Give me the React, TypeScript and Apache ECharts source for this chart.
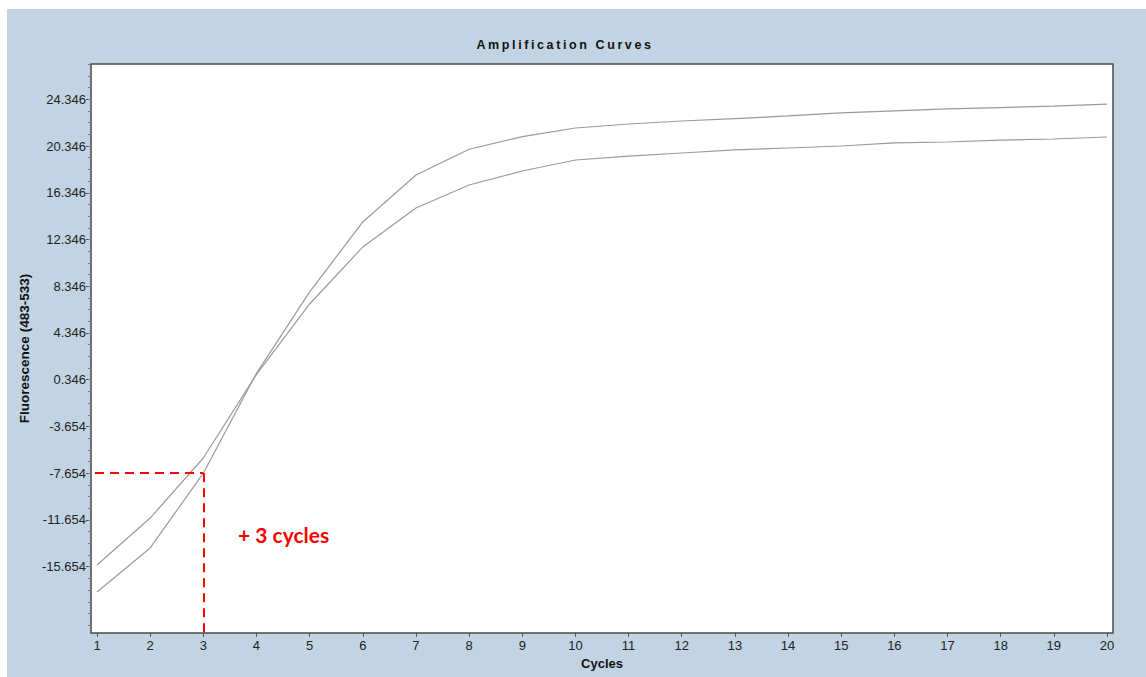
import React, { useEffect, useRef } from "react";
import * as echarts from "echarts";

const cycles = [1, 2, 3, 4, 5, 6, 7, 8, 9, 10, 11, 12, 13, 14, 15, 16, 17, 18, 19, 20];
const curveSteep = [-17.82, -14.05, -7.65, 0.9, 7.86, 13.85, 17.87, 20.07, 21.15, 21.89, 22.23, 22.49, 22.7, 22.92, 23.18, 23.35, 23.52, 23.64, 23.77, 23.94];
const curveShallow = [-15.51, -11.49, -6.35, 0.8, 6.83, 11.71, 15.04, 17.01, 18.21, 19.15, 19.49, 19.75, 20.01, 20.18, 20.35, 20.61, 20.69, 20.86, 20.95, 21.12];
const yMajorTicks = [-15.654, -11.654, -7.654, -3.654, 0.346, 4.346, 8.346, 12.346, 16.346, 20.346, 24.346];
const threshold = { cycle: 3, value: -7.654 };
const X_MIN = 0.887;
const X_MAX = 20.113;
const Y_MIN = -21.328;
const Y_MAX = 27.367;

const minorTicks: number[] = [];
for (let k = -21; k <= 27; k++) {
  const v = +(k + 0.346).toFixed(3);
  if (v > Y_MIN && v < Y_MAX) minorTicks.push(v);
}

const FONT = "'Liberation Sans', Arial, sans-serif";
const TITLE = "Amplification Curves";

export default function App() {
  const ref = useRef<HTMLDivElement>(null);
  useEffect(() => {
    if (!ref.current) return;
    const chart = echarts.init(ref.current, undefined, { renderer: "svg" });
    const toPairs = (arr: number[]) => cycles.map((c, i) => [c, arr[i]]);
    const lineStyle = { color: "#9a9a9a", width: 1.2 };
    chart.setOption({
      animation: false,
      backgroundColor: "#c2d4e4",
      graphic: [
        {
          type: "text",
          x: 558,
          y: 36,
          style: {
            text: TITLE,
            textAlign: "center",
            textVerticalAlign: "middle",
            font: `bold 12.5px ${FONT}`,
            fill: "#111",
          },
        },
        {
          type: "text",
          x: 231,
          y: 525,
          style: {
            text: "+ 3 cycles",
            textVerticalAlign: "middle",
            font: `bold 21px Lato, 'Open Sans', sans-serif`,
            fill: "#ff0000",
          },
        },
      ],
      grid: {
        left: 84,
        top: 55,
        right: 33,
        bottom: 44,
        show: true,
        backgroundColor: "#ffffff",
        borderColor: "#4a4a4a",
        borderWidth: 1.5,
      },
      xAxis: {
        type: "value",
        min: X_MIN,
        max: X_MAX,
        name: "Cycles",
        nameLocation: "middle",
        nameGap: 23,
        nameTextStyle: { fontFamily: FONT, fontWeight: "bold", fontSize: 13, color: "#111" },
        axisLine: { show: false, onZero: false },
        splitLine: { show: false },
        axisTick: { show: true, customValues: cycles, length: 4, lineStyle: { color: "#555" } },
        axisLabel: { customValues: cycles, fontFamily: FONT, fontSize: 13, color: "#222", margin: 6 },
      },
      yAxis: [
        {
          type: "value",
          min: Y_MIN,
          max: Y_MAX,
          name: "Fluorescence (483-533)",
          nameLocation: "middle",
          nameGap: 55,
          nameRotate: 90,
          nameTextStyle: { fontFamily: FONT, fontWeight: "bold", fontSize: 13.5, color: "#111" },
          axisLine: { show: false, onZero: false },
          splitLine: { show: false },
          axisTick: { show: true, customValues: yMajorTicks, length: 5, lineStyle: { color: "#555" } },
          axisLabel: {
            customValues: yMajorTicks,
            fontFamily: FONT,
            fontSize: 13,
            color: "#222",
            margin: 5,
            formatter: (v: number) => v.toFixed(3),
          },
        },
        {
          type: "value",
          min: Y_MIN,
          max: Y_MAX,
          position: "left",
          axisLine: { show: false, onZero: false },
          splitLine: { show: false },
          axisTick: { show: true, customValues: minorTicks, length: 3, lineStyle: { color: "#777" } },
          axisLabel: { show: false },
        },
      ],
      series: [
        {
          type: "line",
          data: toPairs(curveSteep),
          showSymbol: false,
          lineStyle,
          silent: true,
          z: 3,
        },
        {
          type: "line",
          data: toPairs(curveShallow),
          showSymbol: false,
          lineStyle,
          silent: true,
          z: 3,
        },
        {
          type: "line",
          data: [],
          silent: true,
          z: 4,
          markLine: {
            silent: true,
            symbol: "none",
            label: { show: false },
            lineStyle: { color: "#ff0000", type: [9, 6], width: 2 },
            data: [
              [{ coord: [0.962, threshold.value] }, { coord: [threshold.cycle, threshold.value] }],
              [{ coord: [threshold.cycle, threshold.value] }, { coord: [threshold.cycle, Y_MIN] }],
            ],
          },
        },
      ],
    });
    const spaceTitle = () => {
      ref.current?.querySelectorAll("text").forEach((t) => {
        if (t.textContent === TITLE) t.setAttribute("letter-spacing", "2.6");
      });
    };
    chart.on("rendered", spaceTitle);
    spaceTitle();
    return () => chart.dispose();
  }, []);
  return (
    <div
      ref={ref}
      style={{ position: "fixed", left: 7, top: 9, width: 1139, height: 668 }}
    />
  );
}
